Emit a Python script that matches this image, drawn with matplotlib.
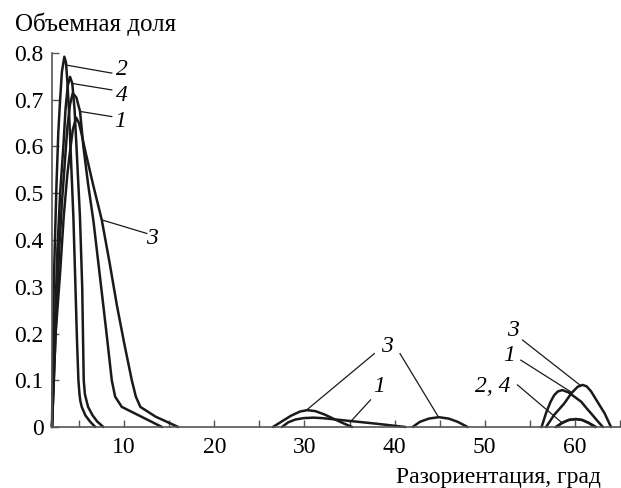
import numpy as np
import matplotlib
matplotlib.use('Agg')
import matplotlib.pyplot as plt

nan = np.nan

# curve 1
x1 = [2.0, 2.4, 2.8, 3.1, 3.44, 3.7, 4.0, 4.3, 4.7, 5.11, 5.48, 6.0, 6.6, 7.45, 8.05, 8.63, 9.0, 9.74, 14.2, nan,
      27.5, 28.2, 29.0, 29.9, 31.0, 32.0, 33.0, 35.0, 38.0, 41.2, nan,
      56.3, 56.8, 57.3, 57.7, 58.1, 58.6, 59.3, 60.0, 60.7, 61.3, 61.8, 62.5, 63.1]
y1 = [0, 0.2, 0.38, 0.48, 0.57, 0.64, 0.69, 0.714, 0.705, 0.675, 0.6, 0.52, 0.44, 0.30, 0.2, 0.10, 0.065, 0.043, 0, nan,
      0, 0.01, 0.016, 0.019, 0.02, 0.019, 0.017, 0.013, 0.007, 0, nan,
      0, 0.03, 0.054, 0.068, 0.076, 0.079, 0.074, 0.064, 0.054, 0.04, 0.029, 0.013, 0]

# curve 2
x2 = [2.0, 2.2, 2.5, 2.7, 2.9, 3.1, 3.37, 3.55, 3.7, 3.9, 4.07, 4.37, 4.6, 4.78, 4.93, 5.05, 5.15, 5.3, 5.7, 6.2, 6.8, nan,
      57.9, 58.6, 59.3, 60.1, 60.8, 61.5, 62.3]
y2 = [0, 0.31, 0.52, 0.63, 0.70, 0.76, 0.792, 0.78, 0.74, 0.67, 0.59, 0.45, 0.3, 0.18, 0.10, 0.07, 0.055, 0.043, 0.025, 0.012, 0, nan,
      0, 0.009, 0.015, 0.017, 0.015, 0.009, 0]

# curve 3
x3 = [2.0, 2.4, 2.9, 3.3, 3.7, 4.0, 4.3, 4.67, 5.0, 5.3, 5.67, 6.6, 7.52, 8.4, 9.2, 10.0, 10.85, 11.3, 11.8, 13.5, 16.0, nan,
      26.5, 27.5, 28.5, 29.5, 30.3, 31.2, 32.2, 33.3, 34.3, 35.3, nan,
      42.0, 42.8, 43.8, 44.9, 46.0, 47.0, 48.1, nan,
      56.8, 57.7, 58.8, 59.6, 60.3, 60.85, 61.3, 61.8, 62.5, 63.3, 64.0]
y3 = [0, 0.2, 0.33, 0.45, 0.54, 0.59, 0.635, 0.662, 0.65, 0.625, 0.592, 0.515, 0.443, 0.35, 0.26, 0.18, 0.10, 0.065, 0.043, 0.022, 0, nan,
      0, 0.012, 0.024, 0.033, 0.036, 0.034, 0.027, 0.017, 0.008, 0, nan,
      0, 0.011, 0.018, 0.021, 0.018, 0.011, 0, nan,
      0, 0.026, 0.05, 0.072, 0.086, 0.09, 0.087, 0.076, 0.054, 0.029, 0]

# curve 4
x4 = [2.0, 2.3, 2.6, 2.9, 3.26, 3.5, 3.75, 4.0, 4.25, 4.5, 4.74, 5.1, 5.35, 5.45, 5.52, 5.65, 6.0, 6.5, 7.0, 7.7, nan,
      57.9, 58.6, 59.3, 60.1, 60.8, 61.5, 62.3]
y4 = [0, 0.2, 0.38, 0.5, 0.6, 0.68, 0.73, 0.749, 0.735, 0.68, 0.59, 0.45, 0.3, 0.18, 0.10, 0.07, 0.043, 0.025, 0.012, 0, nan,
      0, 0.009, 0.015, 0.017, 0.015, 0.009, 0]

# curve labels: text, text position, leader start, leader end
labels = [
    ('2', (9.74, 0.764), (8.63, 0.757), (3.63, 0.774)),
    ('4', (9.74, 0.710), (8.63, 0.721), (4.19, 0.735)),
    ('1', (9.56, 0.653), (8.63, 0.664), (5.11, 0.675)),
    ('3', (13.08, 0.404), (12.52, 0.414), (7.52, 0.443)),
    ('1', (38.26, 0.086), (37.33, 0.058), (35.1, 0.011)),
    ('3', (53.08, 0.207), (54.19, 0.186), (60.67, 0.088)),
    ('1', (52.7, 0.154), (54.0, 0.143), (59.56, 0.075)),
    ('2, 4', (50.86, 0.086), (53.63, 0.09), (58.63, 0.008)),
]
mid3 = ('3', (39.2, 0.172), [(37.75, 0.157), (30.22, 0.036)], [(40.6, 0.157), (44.78, 0.024)])

plt.rcParams['font.family'] = ['Liberation Serif', 'DejaVu Serif']

fig = plt.figure(figsize=(6.21, 4.88), dpi=100)
ax = fig.add_axes([52/621, 61/488, 568/621, 374/488])

for xs, ys in [(x1, y1), (x2, y2), (x3, y3), (x4, y4)]:
    ax.plot(xs, ys, color='#1a1a1a', lw=1.8, solid_capstyle='round', clip_on=False)

for txt, tpos, p0, p1 in labels:
    ax.plot([p0[0], p1[0]], [p0[1], p1[1]], color='#1a1a1a', lw=0.9)
    ax.text(tpos[0], tpos[1], txt, fontsize=17, style='italic', ha='center', va='center')

ax.text(mid3[1][0], mid3[1][1], mid3[0], fontsize=17, style='italic', ha='center', va='center')
for a, b in mid3[2:]:
    ax.plot([a[0], b[0]], [a[1], b[1]], color='#1a1a1a', lw=0.9)

ax.set_xlim(2, 65)
ax.set_ylim(0, 0.8)
ax.set_xticks([10, 20, 30, 40, 50, 60])
ax.set_xticks(np.arange(5, 66, 5), minor=True)
ax.set_yticks(np.arange(0, 0.81, 0.1))
ax.set_yticklabels(['0', '0.1', '0.2', '0.3', '0.4', '0.5', '0.6', '0.7', '0.8'])

for s in ['top', 'right']:
    ax.spines[s].set_visible(False)
for s in ['left', 'bottom']:
    ax.spines[s].set_color('#555555')
    ax.spines[s].set_linewidth(1.2)

ax.tick_params(which='both', direction='in', length=5, width=1.0, color='#555555', labelsize=17)
ax.tick_params(axis='x', pad=7)
ax.tick_params(axis='y', pad=6)

fig.text(15/621, 1 - 31/488, 'Объемная доля', fontsize=18, ha='left', va='baseline')
fig.text(601/621, 1 - 483/488, 'Разориентация, град', fontsize=17, ha='right', va='baseline')

fig.savefig('out.png', dpi=100)
